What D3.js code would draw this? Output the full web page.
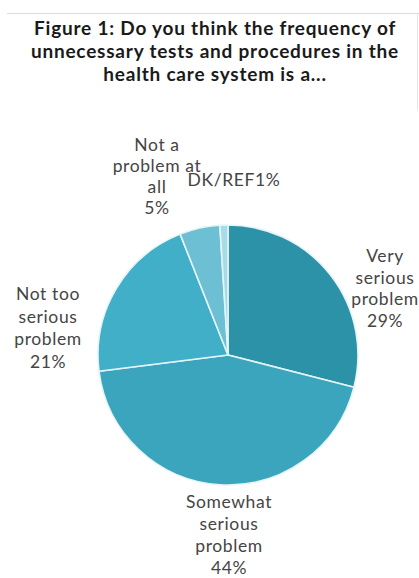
<!DOCTYPE html>
<html>
<head>
<meta charset="utf-8">
<script src="https://cdn.jsdelivr.net/npm/d3@7"></script>
<style>
  html, body { margin: 0; padding: 0; background: #fff; }
  svg { display: block; }
</style>
</head>
<body>
<svg id="chart" width="419" height="578"></svg>
<script>
// Survey responses: perceived frequency of unnecessary tests and procedures
const categories = [
  ["Very", "serious", "problem"],
  ["Somewhat", "serious", "problem"],
  ["Not too", "serious", "problem"],
  ["Not a", "problem at", "all"],
  ["DK/REF"]
];
const values = [29, 44, 21, 5, 1];
const sliceColors = ["#2c92a7", "#3ba5bd", "#42afc8", "#6dbfd3", "#a9dbe7"];
const titleLines = [
  "Figure 1: Do you think the frequency of",
  "unnecessary tests and procedures in the",
  "health care system is a..."
];

const svg = d3.select("#chart");
const W = 419, H = 578;

// faint frame edges
svg.append("line").attr("x1", 7).attr("x2", W).attr("y1", 13.5).attr("y2", 13.5)
  .attr("stroke", "#dcdcdc").attr("stroke-width", 1);
svg.append("line").attr("x1", 417.5).attr("x2", 417.5).attr("y1", 14).attr("y2", 110)
  .attr("stroke", "#e6e6e6").attr("stroke-width", 1);

// title, sized so its first line spans the header width
const titleFont = "Lato, 'Open Sans', sans-serif";
const title = svg.append("g").selectAll("text").data(titleLines).join("text")
  .attr("x", 215).attr("y", (d, i) => 35 + i * 23)
  .attr("text-anchor", "middle")
  .attr("font-family", titleFont)
  .attr("font-weight", 700)
  .attr("font-size", 19)
  .attr("letter-spacing", 0)
  .attr("fill", "#1a1a1a")
  .text(d => d);
const firstLen = title.node().getComputedTextLength();
const nChars = titleLines[0].length;
title.attr("letter-spacing", (362 - firstLen) / nChars);

// pie
const cx = 228, cy = 355, r = 130;
const pie = d3.pie().value(d => d).sort(null);
const arcs = pie(values);
const arc = d3.arc().innerRadius(0).outerRadius(r);

const g = svg.append("g").attr("transform", `translate(${cx},${cy})`);
g.selectAll("path").data(arcs).join("path")
  .attr("d", arc)
  .attr("fill", (d, i) => sliceColors[i])
  .attr("stroke", "#e4f4f8")
  .attr("stroke-width", 1.6)
  .attr("stroke-linejoin", "round");

// label placement (offsets from the pie centre)
const labelLayout = [
  { x: 157, y: -93, lh: 21.5 },
  { x: 1, y: 153, lh: 22 },
  { x: -180, y: -55, lh: 22.5 },
  { x: -71, y: -204, lh: 21 },
  { x: 6, y: -169, lh: 21 }
];

const labels = svg.append("g")
  .attr("font-family", "Lato, 'Open Sans', sans-serif")
  .attr("font-size", 17.5)
  .attr("letter-spacing", 0.6)
  .attr("fill", "#454545")
  .attr("text-anchor", "middle");

arcs.forEach((a, i) => {
  const L = labelLayout[i];
  const lines = categories[i].slice();
  const pct = values[a.index] + "%";
  if (lines.length === 1) {
    lines[0] = lines[0] + pct;
  } else {
    lines.push(pct);
  }
  labels.append("text")
    .attr("x", cx + L.x)
    .attr("y", cy + L.y)
    .selectAll("tspan").data(lines).join("tspan")
    .attr("x", cx + L.x)
    .attr("dy", (d, j) => j === 0 ? 0 : L.lh)
    .text(d => d);
});
</script>
</body>
</html>
